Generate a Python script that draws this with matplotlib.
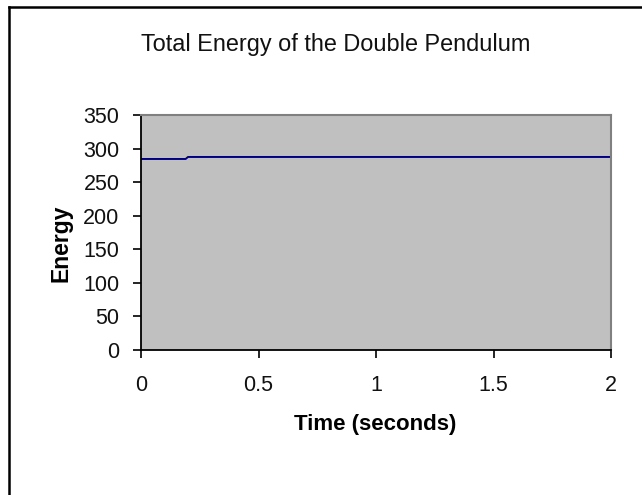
import matplotlib.pyplot as plt
from matplotlib.lines import Line2D

# Total energy samples (seconds, energy units)
time = [0.0, 0.05, 0.1, 0.15, 0.19, 0.2, 0.5, 1.0, 1.5, 2.0]
energy = [284.5, 284.5, 284.5, 284.5, 284.5, 287.5, 287.5, 287.5, 287.5, 287.5]

xticks = [0, 0.5, 1, 1.5, 2]
xticklabels = ['0', '0.5', '1', '1.5', '2']
yticks = [0, 50, 100, 150, 200, 250, 300, 350]

plt.rcParams['font.family'] = ['Liberation Sans', 'DejaVu Sans']

fig = plt.figure(figsize=(6.42, 4.95), dpi=100)
fig.patch.set_facecolor('white')

# Chart frame (left and top edges fall inside the image)
fig.add_artist(Line2D([8.5 / 642, 8.5 / 642], [0, 1 - 7 / 495], color='black', lw=1.8,
                      transform=fig.transFigure))
fig.add_artist(Line2D([8.5 / 642, 1], [1 - 7 / 495, 1 - 7 / 495], color='black', lw=1.8,
                      transform=fig.transFigure))

ax = fig.add_axes([141 / 642, 1 - 350 / 495, 470 / 642, 235 / 495])
ax.set_facecolor('#C0C0C0')
ax.plot(time, energy, color='#000080', lw=1.4)

ax.set_xlim(0, 2)
ax.set_ylim(0, 350)
ax.set_xticks(xticks)
ax.set_xticklabels(xticklabels)
ax.set_yticks(yticks)

for side in ['top', 'right']:
    ax.spines[side].set_color('#808080')
    ax.spines[side].set_linewidth(1.5)
for side in ['left', 'bottom']:
    ax.spines[side].set_color('black')
    ax.spines[side].set_linewidth(1.3)

ax.tick_params(axis='both', direction='out', length=6, width=1.2, color='black',
               labelsize=15.5, labelcolor='#111111')
ax.tick_params(axis='x', pad=12)
ax.tick_params(axis='y', pad=9.5)

ax.set_xlabel('Time (seconds)', fontsize=16, fontweight='bold', va='center')
ax.xaxis.set_label_coords(0.498, -0.319)
ax.set_ylabel('Energy', fontsize=16.5, fontweight='bold', va='center')
ax.yaxis.set_label_coords(-0.170, 0.455)

fig.text(336 / 642, 1 - 44 / 495, 'Total Energy of the Double Pendulum',
         ha='center', va='center', fontsize=16.9, color='#111111')

plt.savefig('out.png', dpi=100)
